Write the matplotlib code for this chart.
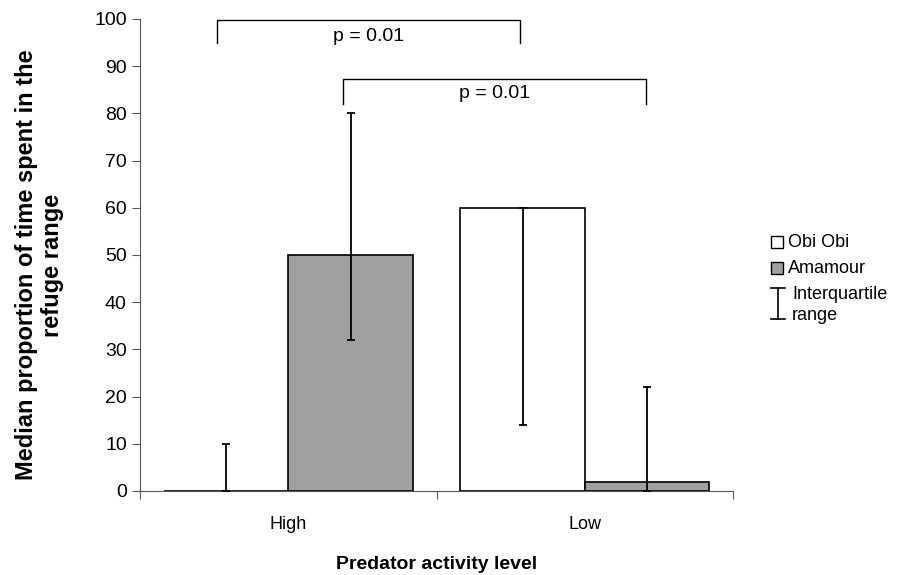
import matplotlib
matplotlib.use('Agg')
import matplotlib.pyplot as plt
import numpy as np
from matplotlib.lines import Line2D
from matplotlib.patches import Rectangle

plt.rcParams['font.family'] = ['Liberation Sans', 'DejaVu Sans']

# data
levels = ['High', 'Low']
species = ['Obi Obi', 'Amamour']
medians = {'Obi Obi': [0, 60], 'Amamour': [50, 2]}
q_low = {'Obi Obi': [0, 14], 'Amamour': [32, 0]}
q_high = {'Obi Obi': [10, 60], 'Amamour': [80, 22]}
colors = {'Obi Obi': 'white', 'Amamour': '#a0a0a0'}
# significance brackets: (left x, right x, top, drop, label y, label)
brackets = [(-0.24, 0.78, 99.7, 95.0, 96.3, 'p = 0.01'),
            (0.185, 1.205, 87.3, 82.0, 84.2, 'p = 0.01')]

fig = plt.figure(figsize=(9, 5.75), dpi=100)
ax = fig.add_axes([0.1556, 0.1461, 0.6589, 0.8209])

x = np.arange(len(levels))
width = 0.42
for j, sp in enumerate(species):
    pos = x + (j - 0.5) * width
    ax.bar(pos, medians[sp], width, color=colors[sp], edgecolor='black',
           linewidth=1.2, zorder=2)
    med = np.array(medians[sp])
    lo = med - np.array(q_low[sp])
    hi = np.array(q_high[sp]) - med
    ax.errorbar(pos, med, yerr=[lo, hi], fmt='none', ecolor='black',
                elinewidth=1.3, capsize=3, capthick=1.3, zorder=3)

for x0, x1, top, drop, ty, lab in brackets:
    ax.plot([x0, x0, x1, x1], [drop, top, top, drop], color='black',
            lw=1.0, clip_on=False)
    ax.text((x0 + x1) / 2, ty, lab, ha='center', va='center', fontsize=14)

ax.set_xlim(-0.5, 1.5)
ax.set_ylim(0, 100)
ax.set_yticks(np.arange(0, 101, 10))
ax.set_xticks([-0.5, 0.5, 1.5])
ax.set_xticklabels(['', '', ''])
ax.set_xticks(x, minor=True)
ax.set_xticklabels(levels, minor=True)
ax.tick_params(axis='x', which='minor', length=0, labelsize=13, pad=18)
ax.tick_params(axis='x', which='major', length=6, color='#555555')
ax.tick_params(axis='y', labelsize=14, length=6, color='#555555')
for s in ['top', 'right']:
    ax.spines[s].set_visible(False)
ax.spines['left'].set_color('#555555')
ax.spines['bottom'].set_color('#555555')

ax.set_ylabel('Median proportion of time spent in the\nrefuge range',
              fontsize=17, fontweight='bold', linespacing=1.15)
ax.yaxis.set_label_coords(-0.128, 0.479)
ax.set_xlabel('Predator activity level', fontsize=14, fontweight='bold')
ax.xaxis.set_label_coords(0.5, -0.137)

# legend drawn by hand
fig.add_artist(Rectangle((0.8567, 0.5687), 0.0133, 0.0209, transform=fig.transFigure,
                         facecolor=colors['Obi Obi'], edgecolor='black', lw=1))
fig.text(0.8756, 0.5791, 'Obi Obi', fontsize=13, va='center')
fig.add_artist(Rectangle((0.8567, 0.5235), 0.0133, 0.0209, transform=fig.transFigure,
                         facecolor=colors['Amamour'], edgecolor='black', lw=1))
fig.text(0.8756, 0.5339, 'Amamour', fontsize=13, va='center')
xe = 0.8644
fig.add_artist(Line2D([xe, xe], [0.4452, 0.4991], color='black', lw=1.2,
                      transform=fig.transFigure))
for yy in [0.4452, 0.4991]:
    fig.add_artist(Line2D([xe - 0.0078, xe + 0.0078], [yy, yy], color='black',
                          lw=1.2, transform=fig.transFigure))
fig.text(0.88, 0.4696, 'Interquartile\nrange', fontsize=13, va='center',
         linespacing=1.3)

fig.savefig('out.png', dpi=100)
